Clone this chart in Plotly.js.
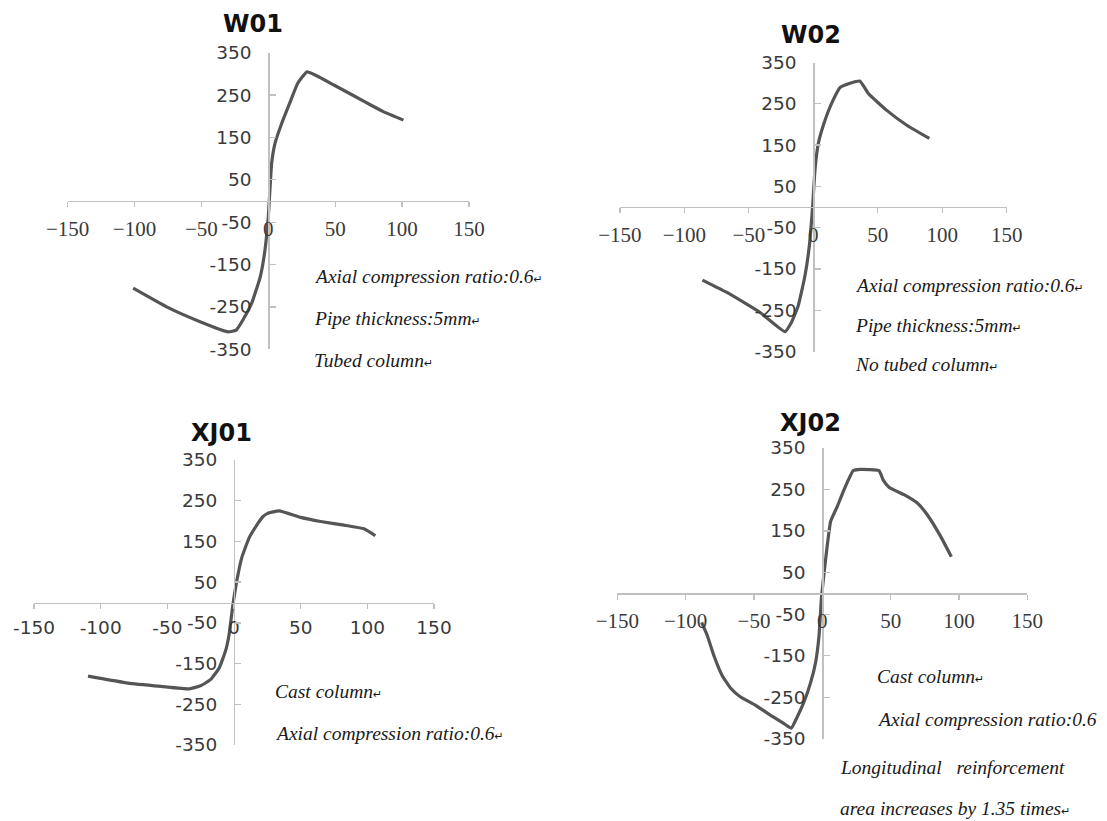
<!DOCTYPE html>
<html>
<head>
<meta charset="utf-8">
<script src="https://cdn.plot.ly/plotly-3.0.1.min.js"></script>
<style>html,body{margin:0;padding:0;background:#fff;}#chart{width:1107px;height:821px;}</style>
</head>
<body>
<div id="chart"></div>
<script>
// ---- data ----
const w01X = [-101,-76,-51,-30,-24,-19,-12.5,-6,-2.5,0,1.2,2.5,5,10,16,22,29,49,74,86,101];
const w01Y = [-206,-250,-285,-309,-305,-281,-242,-179,-116,-37,26,89,136,183,231,278,305,274,231,211,191];

const w02X = [-86,-67,-41.5,-22,-17,-11.7,-6.5,-3.1,-0.5,1.3,3.9,7.8,14.2,21,36,42.7,57,72.5,90];
const w02Y = [-177,-207,-255,-302,-280,-239,-167,-95,2,90,154,198,251,290,305,275,234,198,166];

const xj01X = [-109.5,-79.5,-54.6,-33.4,-24.7,-17.2,-11,-6,-3.5,-1,2.2,6,11.5,17.7,21.4,25.2,33.9,50,65,82.5,97.5,106];
const xj01Y = [-181,-198,-206,-212,-204,-188,-160,-115,-75,-10,55,112,160,193,210,219,225,209,199,190,181,164];

const xj02X = [-88.3,-84.1,-79.3,-73.2,-67,-59.8,-48.8,-37.8,-28,-22.7,-18.8,-13.4,-8.5,-4.9,-2.4,-0.5,2.4,6.1,11,15.9,22.7,28,41.5,44.6,48.8,59.8,69.5,76.8,86.6,94.4];
const xj02Y = [-70,-102,-150,-198,-228,-249,-269,-293,-313,-324,-300,-261,-214,-166,-102,-6,81,173,209,249,295,298,295,272,255,237,217,189,137,88];

const xTickVals = [-150,-100,-50,0,50,100,150];
const xTickHyphen = ['-150','-100','-50','0','50','100','150'];
const yTickVals = [-350,-250,-150,-50,50,150,250,350];
const yTickText = ['-350','-250','-150','-50','50','150','250','350'];

const panelTitles = ['W01','W02','XJ01','XJ02'];
const notesW01 = ['Axial compression ratio:0.6','Pipe thickness:5mm','Tubed column'];
const notesW02 = ['Axial compression ratio:0.6','Pipe thickness:5mm','No tubed column'];
const notesXJ01 = ['Cast column','Axial compression ratio:0.6'];
const notesXJ02 = ['Cast column','Axial compression ratio:0.6'];
const notesXJ02b = ['Longitudinal\u00a0\u00a0\u00a0reinforcement','area increases by 1.35 times'];

// ---- layout helpers ----
const W = 1107, H = 821;
const axisColor = '#c0c0c0';
const curveColor = '#555555';
const RET = '<span style="font-size:11px;font-family:DejaVu Sans">\u21b5</span>';

function px2fx(p){ return p / W; }
function px2fy(p){ return 1 - p / H; }

const panels = [
  {x: w01X, y: w01Y, xl: 67.6, xr: 469, yt: 52.8, yb: 349.2, serifX: true,
   title: [253, 23.5], notes: notesW01, nx: 311.7, ny: [277, 318.5, 360], ret:[true,true,true]},
  {x: w02X, y: w02Y, xl: 619.9, xr: 1006.7, yt: 62.5, yb: 351.5, serifX: true,
   title: [810.7, 35], notes: notesW02, nx: 853.3, ny: [285, 325, 365], ret:[true,true,true]},
  {x: xj01X, y: xj01Y, xl: 34, xr: 434, yt: 460, yb: 745, serifX: false,
   title: [221.7, 433], notes: notesXJ01, nx: 272.7, ny: [691, 733.3], ret:[true,true]},
  {x: xj02X, y: xj02Y, xl: 617.3, xr: 1027.3, yt: 447.7, yb: 739, serifX: true,
   title: [810, 423], notes: notesXJ02, nx: 875, ny: [676, 719.3], ret:[true,false]}
];

const data = [];
const layout = {
  width: W, height: H,
  margin: {l:0, r:0, t:0, b:0},
  paper_bgcolor: '#ffffff',
  plot_bgcolor: 'rgba(0,0,0,0)',
  showlegend: false,
  annotations: []
};

panels.forEach((p, i) => {
  const n = i === 0 ? '' : String(i + 1);
  const xd = [px2fx(p.xl), px2fx(p.xr)];
  const yd = [px2fy(p.yb), px2fy(p.yt)];
  data.push({
    x: p.x, y: p.y, type: 'scatter', mode: 'lines',
    xaxis: 'x' + n, yaxis: 'y' + n,
    line: {color: curveColor, width: 3.2, shape: 'spline', smoothing: 0.4},
    hoverinfo: 'skip'
  });
  layout['xaxis' + n] = {
    domain: xd, range: [-150, 150], anchor: 'free', position: (yd[0] + yd[1]) / 2,
    showgrid: false, zeroline: false, showline: true, linecolor: axisColor, linewidth: 1.3,
    ticks: 'outside', ticklen: 5, tickcolor: axisColor, tickwidth: 1.3,
    tickvals: xTickVals,
    ticktext: p.serifX ? undefined : xTickHyphen,
    tickmode: 'array',
    ticklabelstandoff: 3,
    tickfont: p.serifX ? {family: 'Liberation Serif', size: 21, color: '#3a3a3a'}
                       : {family: 'DejaVu Sans', size: 18.5, color: '#3a3a3a'},
    fixedrange: true
  };
  layout['yaxis' + n] = {
    domain: yd, range: [-350, 350], anchor: 'free', position: (xd[0] + xd[1]) / 2,
    showgrid: false, zeroline: false, showline: true, linecolor: axisColor, linewidth: 1.3,
    ticks: 'inside', ticklen: 6, tickcolor: axisColor, tickwidth: 1.3,
    tickmode: 'array', tickvals: yTickVals, ticktext: yTickText,
    ticklabelstandoff: 13,
    tickfont: {family: 'DejaVu Sans', size: 18.5, color: '#3a3a3a'},
    fixedrange: true
  };
  layout.annotations.push({
    xref: 'paper', yref: 'paper', x: px2fx(p.title[0]), y: px2fy(p.title[1]),
    xanchor: 'center', yanchor: 'middle', showarrow: false,
    text: '<b>' + panelTitles[i] + '</b>',
    font: {family: 'DejaVu Sans', size: 24, color: '#111111'}
  });
  p.notes.forEach((t, k) => {
    layout.annotations.push({
      xref: 'paper', yref: 'paper', x: px2fx(p.nx), y: px2fy(p.ny[k]),
      xanchor: 'left', yanchor: 'middle', showarrow: false,
      text: '<i>' + t + '</i>' + (p.ret[k] ? RET : ''),
      font: {family: 'Liberation Serif', size: 19.5, color: '#1a1a1a'}
    });
  });
});

// extra two-line note under XJ02
const extraY = [767, 808.5];
notesXJ02b.forEach((t, k) => {
  layout.annotations.push({
    xref: 'paper', yref: 'paper', x: px2fx(838.3), y: px2fy(extraY[k]),
    xanchor: 'left', yanchor: 'middle', showarrow: false,
    text: '<i>' + t + '</i>' + (k === 1 ? RET : ''),
    font: {family: 'Liberation Serif', size: 19.5, color: '#1a1a1a'}
  });
});

Plotly.newPlot('chart', data, layout, {staticPlot: true, displayModeBar: false});
</script>
</body>
</html>
